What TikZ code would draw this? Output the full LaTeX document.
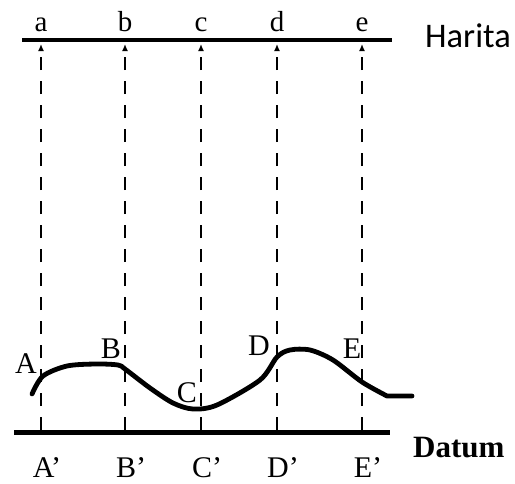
\documentclass[tikz,border=0pt]{standalone}
\usepackage{fontspec}
\setmainfont{Liberation Serif}
\newfontfamily\haritafont{Carlito}
\usetikzlibrary{arrows.meta}

\begin{document}
\begin{tikzpicture}[
  x=1pt,
  y=-1pt,
  line join=round,
  plane/.style={draw=black,line width=4.5pt},
  projection/.style={draw=black,line width=2.6pt,dash pattern=on 13pt off 11pt,
    -{Latex[length=7pt,width=6pt]}},
  terrain/.style={draw=black,line width=4.8pt,line cap=round},
  lbl/.style={anchor=base,inner sep=0pt,font=\fontsize{30}{34}\selectfont}
]
  \useasboundingbox (0,0) rectangle (515,483);

  % Map plane (top) and datum plane (bottom).
  \coordinate (mapleft) at (22,40);
  \coordinate (mapright) at (392,40);
  \coordinate (datleft) at (14,432);
  \coordinate (datright) at (390,432);
  \draw[plane] (mapleft) -- (mapright);
  \draw[plane,line width=5pt] (datleft) -- (datright);
  \node[anchor=base west,inner sep=0pt,font=\haritafont\fontsize{34.5}{40}\selectfont]
    (harita) at (425,47) {Harita};
  \node[anchor=base west,inner sep=0pt,font=\bfseries\fontsize{31}{36}\selectfont]
    (datum) at (413,457) {Datum};

  % Vertical projections from the datum up to the map.
  \foreach \x/\m/\p in {41/a/A,125/b/B,201/c/C,277/d/D,362/e/E} {
    \coordinate (top\m) at (\x,44);
    \coordinate (bot\m) at (\x,430);
    \node[lbl,font=\fontsize{29}{32}\selectfont] (map\m) at (\x,31) {\m};
    \node[lbl] (dat\m) at (\x+6,477) {\p’};
    \draw[projection] (bot\m) -- (top\m);
  }

  % Ground surface.
  \draw[terrain] plot[smooth,tension=0.5] coordinates {
    (32,394) (43,376) (67,366) (96,364) (118,365) (125,369) (150,388)
    (173,403) (193,409) (217,405) (260,380) (277,357) (290,350) (310,350)
    (333,360) (362,382) (387,396)} -- (412,396);
  \node[lbl] (ptA) at (26,373) {A};
  \node[lbl] (ptB) at (111,358) {B};
  \node[lbl] (ptC) at (187,402) {C};
  \node[lbl] (ptD) at (259,355) {D};
  \node[lbl] (ptE) at (352,358) {E};
\end{tikzpicture}
\end{document}
